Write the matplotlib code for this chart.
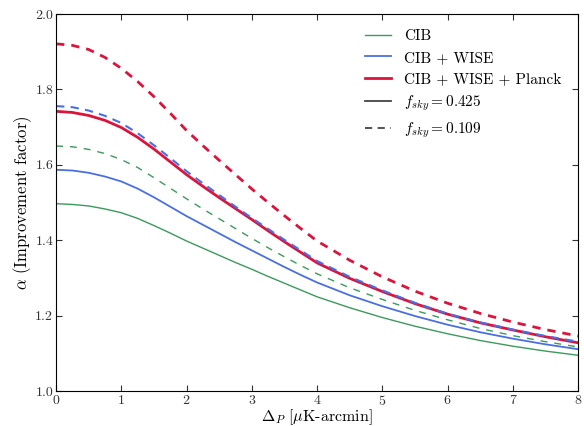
import matplotlib
matplotlib.use("Agg")
import matplotlib.pyplot as plt
from matplotlib.lines import Line2D

plt.rcParams["font.family"] = "serif"
plt.rcParams["font.serif"] = ["cmr10", "DejaVu Serif"]
plt.rcParams["mathtext.fontset"] = "cm"
plt.rcParams["axes.formatter.use_mathtext"] = True

# noise level Delta_P (uK-arcmin)
delta_p = [0, 0.25, 0.5, 0.75, 1, 1.25, 1.5, 1.75, 2, 2.25, 2.5, 2.75, 3, 3.25, 3.5, 3.75, 4,
           4.5, 5, 5.5, 6, 6.5, 7, 7.5, 8]

# fsky = 0.425 (solid)
cib_425 = [1.497, 1.495, 1.491, 1.483, 1.473, 1.458, 1.439, 1.419, 1.398, 1.379, 1.360, 1.341, 1.323,
           1.304, 1.286, 1.268, 1.250, 1.221, 1.195, 1.172, 1.152, 1.134, 1.119, 1.106, 1.095]
wise_425 = [1.587, 1.585, 1.579, 1.569, 1.556, 1.537, 1.514, 1.489, 1.464, 1.441, 1.418, 1.395, 1.373,
            1.351, 1.329, 1.308, 1.288, 1.254, 1.225, 1.199, 1.176, 1.156, 1.139, 1.124, 1.111]
planck_425 = [1.742, 1.739, 1.731, 1.718, 1.699, 1.673, 1.642, 1.608, 1.574, 1.543, 1.513, 1.484, 1.455,
              1.425, 1.396, 1.368, 1.340, 1.299, 1.264, 1.232, 1.204, 1.181, 1.162, 1.144, 1.128]

# fsky = 0.109 (dashed)
cib_109 = [1.650, 1.648, 1.641, 1.630, 1.614, 1.593, 1.566, 1.538, 1.510, 1.483, 1.457, 1.431, 1.405,
           1.380, 1.356, 1.333, 1.311, 1.274, 1.243, 1.214, 1.189, 1.166, 1.147, 1.131, 1.117]
wise_109 = [1.756, 1.753, 1.744, 1.730, 1.711, 1.684, 1.652, 1.618, 1.583, 1.551, 1.520, 1.489, 1.459,
            1.430, 1.401, 1.373, 1.345, 1.303, 1.267, 1.234, 1.205, 1.182, 1.163, 1.146, 1.131]
planck_109 = [1.921, 1.917, 1.906, 1.885, 1.856, 1.821, 1.781, 1.737, 1.691, 1.651, 1.612, 1.574, 1.536,
              1.500, 1.465, 1.431, 1.398, 1.347, 1.303, 1.265, 1.233, 1.206, 1.183, 1.163, 1.146]

green = "#3b9a5c"
blue = "#4a6fe3"
red = "#dc143c"

fig = plt.figure(figsize=(5.84, 4.26), dpi=100)
ax = fig.add_axes([0.096, 0.082, 0.894, 0.885])

ax.plot(delta_p, cib_425, color=green, lw=1.0)
ax.plot(delta_p, wise_425, color=blue, lw=1.3)
ax.plot(delta_p, planck_425, color=red, lw=2.0)
ax.plot(delta_p, cib_109, color=green, lw=1.0, ls=(0, (5, 5)))
ax.plot(delta_p, wise_109, color=blue, lw=1.5, ls=(0, (4, 3)))
ax.plot(delta_p, planck_109, color=red, lw=2.0, ls=(0, (3, 2.5)))

ax.set_xlim(0, 8)
ax.set_ylim(1.0, 2.0)
ax.set_xticks(range(0, 9))
ax.set_yticks([1.0, 1.2, 1.4, 1.6, 1.8, 2.0])
ax.set_yticklabels(["1.0", "1.2", "1.4", "1.6", "1.8", "2.0"])
ax.tick_params(direction="in", top=True, right=True, length=4, pad=2,
               labelsize=10, colors="#333333")
ax.set_xlabel(r"$\Delta_P$ [$\mu$K-arcmin]", fontsize=11.5, labelpad=0)
ax.set_ylabel(r"$\alpha$ (Improvement factor)", fontsize=12, labelpad=1)

handles = [
    Line2D([], [], color=green, lw=1.0),
    Line2D([], [], color=blue, lw=1.3),
    Line2D([], [], color=red, lw=2.0),
    Line2D([], [], color="#444444", lw=1.3),
    Line2D([], [], color="#444444", lw=1.3, ls=(0, (4, 3))),
]
labels = ["CIB", "CIB + WISE", "CIB + WISE + Planck",
          r"$f_{sky} = 0.425$", r"$f_{sky} = 0.109$"]
ax.legend(handles, labels, loc="upper right", frameon=False, fontsize=11,
          handlelength=1.7, handletextpad=0.9, labelspacing=0.5,
          bbox_to_anchor=(0.995, 0.995))

fig.savefig("out.png")
